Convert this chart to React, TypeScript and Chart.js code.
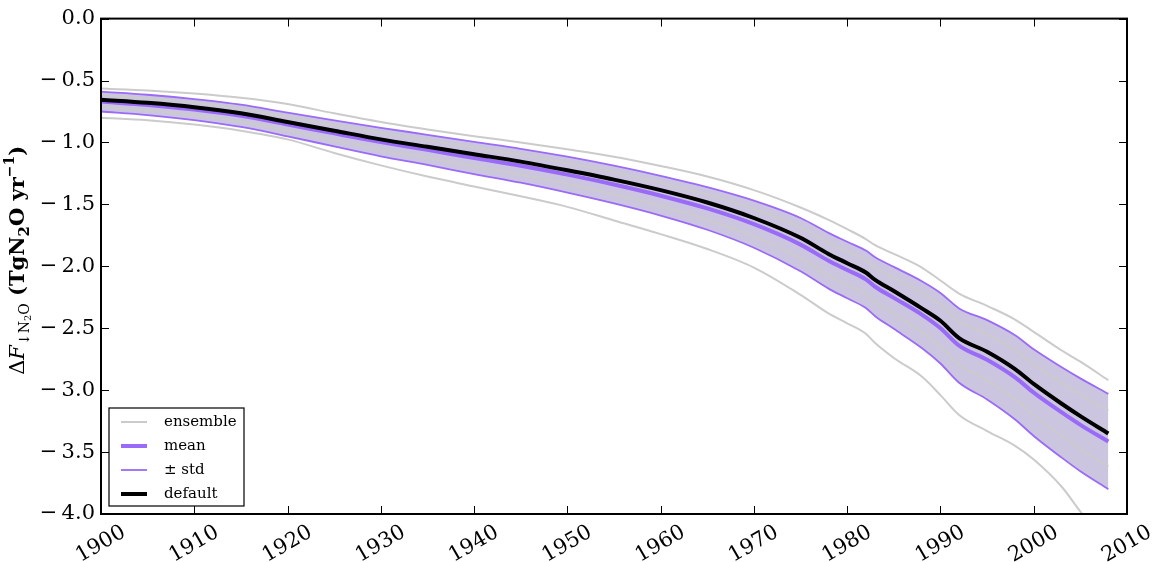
import React, { useEffect, useRef } from "react";
import { Chart, registerables } from "chart.js";

Chart.register(...registerables);

const years = [1900, 1905, 1910, 1915, 1920, 1925, 1930, 1935, 1940, 1945, 1950, 1955, 1960, 1965, 1970, 1975, 1978, 1980, 1982, 1983, 1985, 1988, 1990, 1992, 1995, 1998, 2000, 2003, 2005, 2008];

const defaultRun = [-0.655, -0.68, -0.715, -0.765, -0.835, -0.905, -0.975, -1.035, -1.095, -1.155, -1.225, -1.3, -1.385, -1.485, -1.61, -1.77, -1.9, -1.975, -2.05, -2.11, -2.2, -2.34, -2.44, -2.58, -2.69, -2.83, -2.95, -3.11, -3.21, -3.35];

const ensembleMean = [-0.67, -0.697, -0.735, -0.785, -0.855, -0.927, -0.997, -1.06, -1.125, -1.188, -1.26, -1.34, -1.43, -1.533, -1.66, -1.825, -1.955, -2.03, -2.105, -2.165, -2.255, -2.39, -2.5, -2.64, -2.755, -2.897, -3.02, -3.18, -3.28, -3.415];

const stdUpper = [-0.59, -0.615, -0.65, -0.695, -0.76, -0.822, -0.882, -0.938, -0.995, -1.051, -1.115, -1.188, -1.27, -1.361, -1.47, -1.61, -1.73, -1.802, -1.873, -1.927, -2.005, -2.12, -2.215, -2.34, -2.435, -2.557, -2.67, -2.815, -2.905, -3.03];

const stdLower = [-0.75, -0.779, -0.82, -0.875, -0.95, -1.032, -1.112, -1.182, -1.255, -1.325, -1.405, -1.492, -1.59, -1.705, -1.85, -2.04, -2.18, -2.258, -2.337, -2.403, -2.505, -2.66, -2.785, -2.94, -3.075, -3.237, -3.37, -3.545, -3.655, -3.8];

const memberHigh = [-0.565, -0.58, -0.605, -0.64, -0.69, -0.765, -0.835, -0.895, -0.95, -1.0, -1.055, -1.115, -1.19, -1.275, -1.385, -1.525, -1.625, -1.7, -1.78, -1.83, -1.9, -2.01, -2.115, -2.22, -2.32, -2.43, -2.53, -2.68, -2.77, -2.92];

const memberMidHigh = [-0.618, -0.644, -0.68, -0.727, -0.793, -0.859, -0.922, -0.981, -1.041, -1.099, -1.166, -1.241, -1.326, -1.421, -1.537, -1.685, -1.809, -1.882, -1.954, -2.01, -2.093, -2.215, -2.315, -2.445, -2.547, -2.676, -2.793, -2.943, -3.036, -3.165];

const memberMidLow = [-0.712, -0.74, -0.779, -0.832, -0.904, -0.982, -1.057, -1.123, -1.193, -1.259, -1.335, -1.419, -1.513, -1.622, -1.759, -1.937, -2.072, -2.149, -2.226, -2.289, -2.385, -2.53, -2.648, -2.796, -2.921, -3.074, -3.202, -3.37, -3.475, -3.615];

const memberLow = [-0.8, -0.82, -0.855, -0.905, -0.975, -1.085, -1.185, -1.275, -1.355, -1.435, -1.52, -1.63, -1.74, -1.86, -2.01, -2.23, -2.38, -2.46, -2.545, -2.62, -2.74, -2.89, -3.04, -3.2, -3.33, -3.45, -3.56, -3.78, -3.98, -4.25];

const xTicks = [1900, 1910, 1920, 1930, 1940, 1950, 1960, 1970, 1980, 1990, 2000, 2010];
const yTicks = [0, -0.5, -1, -1.5, -2, -2.5, -3, -3.5, -4];

const legendLabels = ["ensemble", "mean", "\u00b1 std", "default"];

const SERIF = "'DejaVu Serif', 'Liberation Serif', serif";
const PURPLE = "#9a6af8";
const GREY = "#cbcbcb";
const BAND = "rgb(204,197,224)";

const pts = (vals: number[]) => years.map((x, i) => ({ x, y: vals[i] }));

const frameTicks = {
  id: "frameTicks",
  afterDatasetsDraw(chart: any) {
    const { ctx, chartArea, scales } = chart;
    const { left, right, top, bottom } = chartArea;
    ctx.save();
    ctx.strokeStyle = "#000";
    ctx.lineWidth = 1;
    ctx.beginPath();
    for (const v of xTicks) {
      const px = Math.round(scales.x.getPixelForValue(v)) + 0.5;
      ctx.moveTo(px, bottom);
      ctx.lineTo(px, bottom - 8);
      ctx.moveTo(px, top);
      ctx.lineTo(px, top + 8);
    }
    for (const v of yTicks) {
      const py = Math.round(scales.y.getPixelForValue(v)) + 0.5;
      ctx.moveTo(left, py);
      ctx.lineTo(left + 8, py);
      ctx.moveTo(right, py);
      ctx.lineTo(right - 8, py);
    }
    ctx.stroke();
    ctx.lineWidth = 2;
    ctx.strokeRect(left, top, right - left, bottom - top);
    ctx.restore();
  },
};

const boxLegend = {
  id: "boxLegend",
  afterDraw(chart: any) {
    const { ctx, chartArea } = chart;
    const items: any[] = [];
    for (const lab of legendLabels) {
      const ds = chart.data.datasets.find((d: any) => d.label === lab);
      if (ds) items.push({ label: lab, color: ds.borderColor, width: ds.borderWidth });
    }
    const bx = chartArea.left + 8;
    const bw = 135;
    const rowH = 24;
    const bh = 98;
    const by = chartArea.bottom - 8 - bh;
    ctx.save();
    ctx.fillStyle = "#fff";
    ctx.fillRect(bx, by, bw, bh);
    ctx.strokeStyle = "#000";
    ctx.lineWidth = 1.2;
    ctx.strokeRect(bx, by, bw, bh);
    ctx.font = `15px ${SERIF}`;
    ctx.textBaseline = "middle";
    ctx.textAlign = "left";
    items.forEach((it, i) => {
      const cy = by + 14 + i * rowH;
      ctx.strokeStyle = it.color;
      ctx.lineWidth = it.width;
      ctx.beginPath();
      ctx.moveTo(bx + 12, cy);
      ctx.lineTo(bx + 38, cy);
      ctx.stroke();
      ctx.fillStyle = "#000";
      ctx.fillText(it.label, bx + 55, cy);
    });
    ctx.restore();
  },
};

const yTitle = {
  id: "yTitle",
  afterDraw(chart: any) {
    const { ctx, chartArea } = chart;
    const segs = [
      { t: "\u0394", f: `21px ${SERIF}`, dy: 0 },
      { t: "F", f: `italic 21px ${SERIF}`, dy: 0 },
      { t: "\u2193N", f: `14px ${SERIF}`, dy: 6 },
      { t: "2", f: `10px ${SERIF}`, dy: 9 },
      { t: "O", f: `14px ${SERIF}`, dy: 6 },
      { t: " (TgN", f: `bold 21px ${SERIF}`, dy: 0 },
      { t: "2", f: `bold 15px ${SERIF}`, dy: 6 },
      { t: "O yr", f: `bold 21px ${SERIF}`, dy: 0 },
      { t: "\u22121", f: `bold 14px ${SERIF}`, dy: -9 },
      { t: ")", f: `bold 21px ${SERIF}`, dy: 0 },
    ];
    ctx.save();
    let total = 0;
    const widths = segs.map((s) => {
      ctx.font = s.f;
      const w = ctx.measureText(s.t).width;
      total += w;
      return w;
    });
    const cy = (chartArea.top + chartArea.bottom) / 2 - 6;
    ctx.translate(19, cy);
    ctx.rotate(-Math.PI / 2);
    ctx.fillStyle = "#000";
    ctx.textBaseline = "middle";
    ctx.textAlign = "left";
    let x = -total / 2;
    segs.forEach((s, i) => {
      ctx.font = s.f;
      ctx.fillText(s.t, x, s.dy);
      x += widths[i];
    });
    ctx.restore();
  },
};

export default function App() {
  const ref = useRef<HTMLCanvasElement | null>(null);

  useEffect(() => {
    if (!ref.current) return;
    const line = (label: string, vals: number[], color: string, width: number, order: number, extra: any = {}) => ({
      label,
      data: pts(vals),
      borderColor: color,
      backgroundColor: color,
      borderWidth: width,
      pointRadius: 0,
      pointHoverRadius: 0,
      cubicInterpolationMode: "monotone",
      fill: false,
      clip: 0,
      order,
      ...extra,
    });
    const chart = new Chart(ref.current, {
      type: "line",
      data: {
        datasets: [
          line("\u00b1 std", stdUpper, PURPLE, 1.8, 3, { fill: { target: 1 }, backgroundColor: BAND }),
          line("\u00b1 std (lower)", stdLower, PURPLE, 1.8, 3),
          line("ensemble", memberHigh, GREY, 2, 5),
          line("ensemble (2)", memberMidHigh, GREY, 2, 5),
          line("ensemble (3)", memberMidLow, GREY, 2, 5),
          line("ensemble (4)", memberLow, GREY, 2, 5),
          line("mean", ensembleMean, PURPLE, 4, 2),
          line("default", defaultRun, "#000", 4, 1),
        ],
      },
      options: {
        responsive: false,
        animation: false,
        devicePixelRatio: 1,
        layout: { padding: { top: 15, right: 30, left: 0, bottom: 0 } },
        plugins: {
          legend: { display: false },
          tooltip: { enabled: false },
          filler: { drawTime: "beforeDatasetsDraw" },
        },
        scales: {
          x: {
            type: "linear",
            min: 1900,
            max: 2010,
            grid: { display: false, drawTicks: false },
            border: { display: false },
            afterFit: (s: any) => {
              s.height = 48;
            },
            ticks: {
              stepSize: 10,
              autoSkip: false,
              minRotation: 30,
              maxRotation: 30,
              padding: 6,
              labelOffset: 23,
              color: "#000",
              font: { family: SERIF, size: 21 },
              callback: (v: any) => String(v),
            },
          },
          y: {
            type: "linear",
            min: -4,
            max: 0,
            grid: { display: false, drawTicks: false },
            border: { display: false },
            afterFit: (s: any) => {
              s.width = 101;
            },
            ticks: {
              stepSize: 0.5,
              padding: 6,
              color: "#000",
              font: { family: SERIF, size: 21 },
              callback: (v: any) => (v < 0 ? "\u2212\u2009" : "") + Math.abs(v).toFixed(1),
            },
          },
        },
      } as any,
      plugins: [frameTicks, boxLegend, yTitle],
    });
    return () => chart.destroy();
  }, []);

  return (
    <div style={{ position: "fixed", left: 0, top: 0, width: 1157, height: 562, background: "#fff" }}>
      <canvas ref={ref} width={1157} height={562} style={{ display: "block" }} />
    </div>
  );
}
